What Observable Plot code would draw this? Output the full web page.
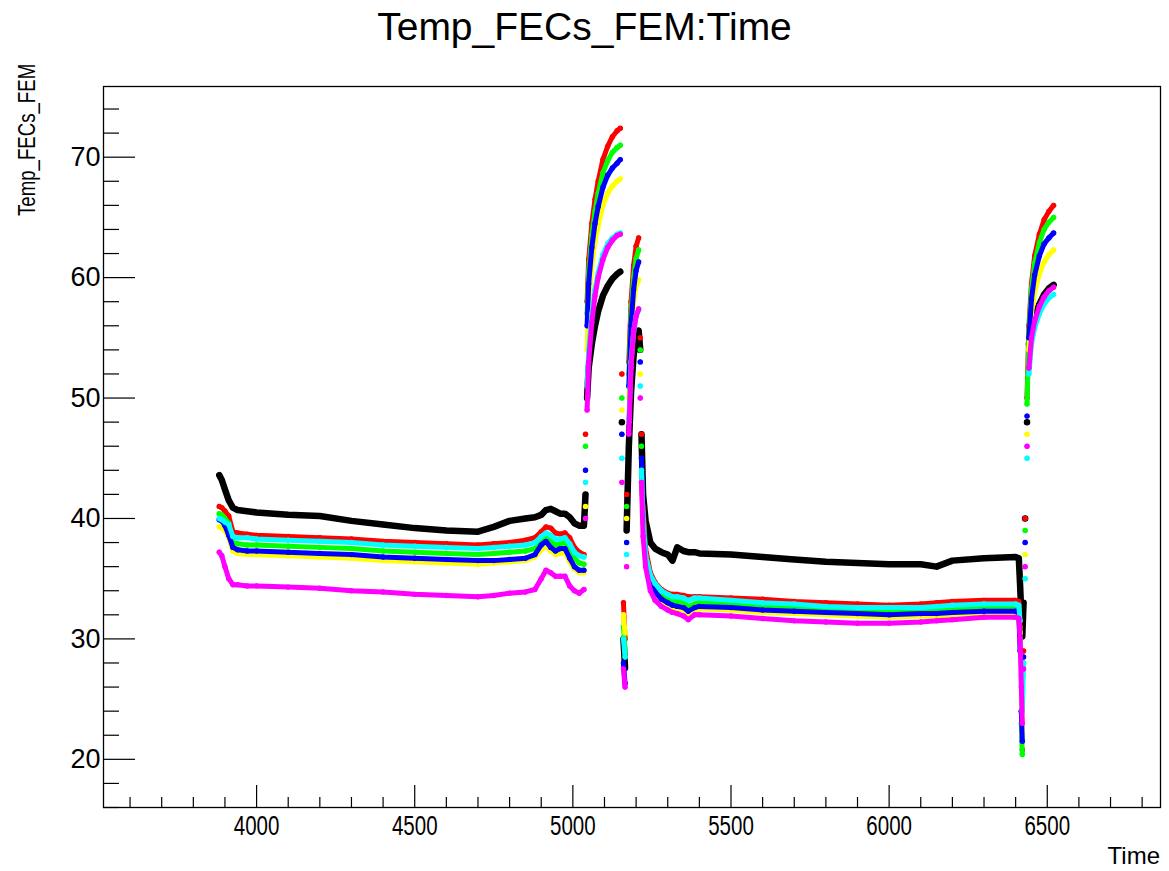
<!DOCTYPE html>
<html><head><meta charset="utf-8">
<script src="https://cdn.jsdelivr.net/npm/d3@7"></script>
<script src="https://cdn.jsdelivr.net/npm/@observablehq/plot@0.6"></script>
<style>
html,body{margin:0;padding:0;background:#fff;}
#wrap{position:relative;width:1169px;height:871px;font-family:"Liberation Sans",Arial,sans-serif;color:#000;}
#title{position:absolute;left:0;top:5px;width:1169px;text-align:center;font-size:39px;white-space:nowrap;}
#ytitle{position:absolute;left:14px;top:216px;font-size:23px;line-height:26px;white-space:nowrap;transform-origin:0 0;transform:rotate(-90deg) scaleX(0.81);}
#xtitle{position:absolute;right:9px;top:842px;font-size:24px;white-space:nowrap;}
</style></head>
<body><div id="wrap"><div id="chart"></div>
<div id="title">Temp_FECs_FEM:Time</div>
<div id="ytitle">Temp_FECs_FEM</div>
<div id="xtitle">Time</div>
</div>
<script>
// ---- data ----
const time = [3882,3890,3900,3912,3925,3940,3970,4000,4100,4200,4300,4400,4500,4600,4700,4750,4800,4850,4880,4900,4915,4930,4945,4960,4975,4990,5005,5020,5035,
  5040,5045,5050,5060,5070,5080,5095,5110,5125,5140,5150,
  5155,5160,5165,5170,5177,5184,5192,5200,5208,
  5213,5217,5222,5230,5245,5260,5280,5300,5315,5330,5350,5365,5385,5400,
  5500,5600,5700,5800,5900,6000,6100,6150,6200,6300,6400,6410,
  6414,6418,6421,6425,6430,6436,6442,6450,6460,6475,6490,6505,6520];

const fecBlack = [43.6,43.2,42.4,41.5,40.9,40.7,40.6,40.5,40.3,40.2,39.8,39.5,39.2,39.0,38.9,39.3,39.8,40.0,40.1,40.3,40.7,40.8,40.6,40.4,40.4,40.1,39.6,39.4,39.4,
  42,50,52.5,54.5,56,57.2,58.5,59.3,59.9,60.3,60.5,
  48,30,27.6,39,46,50.5,53.5,55.0,55.6,
  54,47,42,39.8,38.0,37.5,37.2,37.0,36.5,37.6,37.3,37.2,37.2,37.1,
  37.0,36.8,36.6,36.4,36.3,36.2,36.2,36.0,36.5,36.7,36.8,36.7,
  34.5,32,30.2,33,40,48,54.5,56,56.8,57.8,58.6,59.1,59.4];
const fecRed = [41.0,40.9,40.6,40.2,38.9,38.8,38.7,38.6,38.5,38.4,38.3,38.1,38.0,37.9,37.8,37.9,38.0,38.2,38.4,38.9,39.3,39.2,38.8,38.7,38.8,38.4,37.6,37.2,37.0,
  47,58,61.5,64.5,66.5,68,69.8,70.9,71.7,72.2,72.4,
  52,33,30,42,53,58,61,62.6,63.3,
  55,47,41,37.5,35.5,34.7,34.1,33.8,33.7,33.7,33.6,33.5,33.5,33.5,
  33.4,33.3,33.1,33.0,32.9,32.8,32.9,33.0,33.1,33.2,33.2,33.1,
  31,24,20.8,29,40,50,56,59.5,61.8,63.6,64.8,65.5,66.0];
const fecGreen = [40.4,40.3,40.0,39.6,38.0,37.9,37.8,37.8,37.7,37.6,37.5,37.3,37.2,37.1,37.0,37.1,37.2,37.3,37.5,38.1,38.4,38.2,37.8,37.9,38.0,37.4,36.7,36.3,36.2,
  46,57,60.5,63.5,65.5,67,68.7,69.7,70.4,70.8,71.0,
  50,31,29,41,52,57,60,61.6,62.3,
  54,46,40.5,37.0,35.1,34.3,33.7,33.4,33.2,33.1,33.0,32.7,32.9,33.0,
  32.9,32.7,32.6,32.4,32.3,32.3,32.3,32.4,32.5,32.6,32.6,32.5,
  30,23,20.4,28,39,49.5,55.5,59,61.2,62.9,64.0,64.6,65.0];
const fecYellow = [39.3,39.2,39.0,38.4,37.3,37.1,37.0,37.0,36.9,36.8,36.7,36.5,36.4,36.3,36.2,36.3,36.4,36.5,36.8,37.4,37.7,37.3,37.0,37.1,37.2,36.4,35.8,35.5,35.5,
  41,54,58,61,63,64.3,66,67,67.6,68.0,68.2,
  49,32,30.5,40,50,55,58,59.3,59.8,
  52,44,39.5,36.3,34.4,33.6,33.0,32.7,32.6,32.5,32.4,32.1,32.4,32.5,
  32.4,32.2,32.1,32.0,31.9,31.8,31.9,31.9,32.0,32.1,32.1,32.0,
  30.5,25,22,27,37,47,54,57,58.8,60.3,61.3,61.9,62.3];
const fecBlue = [39.9,39.8,39.4,38.6,37.6,37.4,37.3,37.3,37.2,37.1,37.0,36.8,36.7,36.6,36.5,36.5,36.6,36.7,37.0,37.8,38.1,37.6,37.3,37.5,37.5,36.7,36.0,35.7,35.7,
  44,56,59.5,62.5,64.5,65.9,67.5,68.5,69.1,69.5,69.8,
  47,28,26.3,38,51,56,59,60.6,61.3,
  53,45,40,36.6,34.7,33.9,33.3,33.0,32.8,32.7,32.6,32.3,32.6,32.7,
  32.6,32.4,32.3,32.2,32.1,32.0,32.1,32.1,32.2,32.3,32.3,32.2,
  29,24,21.5,28.5,38,48.5,55,58.2,60.2,61.8,62.8,63.3,63.7];
const fecCyan = [40.0,39.9,39.7,39.5,38.5,38.4,38.4,38.3,38.2,38.1,38.0,37.8,37.7,37.6,37.5,37.6,37.7,37.8,38.0,38.5,38.8,38.6,38.3,38.3,38.4,37.9,37.2,36.9,36.8,
  43,51,54,57,59,60.4,61.9,62.8,63.3,63.6,63.7,
  45,30,28.5,37,48,53,55.5,56.8,57.3,
  51,44,40,36.9,35.3,34.6,34.0,33.7,33.5,33.5,33.4,33.2,33.4,33.4,
  33.2,33.0,32.9,32.7,32.6,32.6,32.6,32.7,32.8,32.9,32.9,32.8,
  31.5,27,24,28,35,45,52,54.5,55.8,57.0,57.8,58.3,58.6];
const fecMagenta = [37.2,36.9,36.0,35.0,34.5,34.5,34.4,34.4,34.3,34.2,34.0,33.9,33.7,33.6,33.5,33.6,33.8,33.9,34.1,35.0,35.7,35.5,35.2,35.2,35.2,34.4,34.0,33.8,34.1,
  40,49,53,56.3,58.5,60.0,61.5,62.5,63.1,63.5,63.6,
  43,27.5,26.0,36,47,52.5,55.5,56.8,57.4,
  50,43,38.5,36.0,34.0,33.2,32.7,32.4,32.2,32.1,31.9,31.6,32.0,32.0,
  31.9,31.7,31.5,31.4,31.3,31.3,31.4,31.5,31.6,31.8,31.8,31.7,
  30,26,23,27.5,36,46,52.5,55,56.4,57.6,58.4,58.9,59.2];

const seriesNames = ["black","red","green","yellow","blue","cyan","magenta"];
const seriesValues = [fecBlack, fecRed, fecGreen, fecYellow, fecBlue, fecCyan, fecMagenta];
const seriesColors = ["#000000","#ff0000","#00ff00","#ffff00","#0000ff","#00ffff","#ff00ff"];

const xMajor = [4000,4500,5000,5500,6000,6500];
const xMinor = [3600,3700,3800,3900,4100,4200,4300,4400,4600,4700,4800,4900,5100,5200,5300,5400,5600,5700,5800,5900,6100,6200,6300,6400,6600,6700,6800];
const yMajor = [20,30,40,50,60,70];
const yMinor = [16,18,22,24,26,28,32,34,36,38,42,44,46,48,52,54,56,58,62,64,66,68,72,74];

// ---- layout ----
const W = 1169, H = 871, mL = 103, mR = 9, mT = 86, mB = 64;
const xDomain = [3516, 6858], yDomain = [16.0, 75.87];
const kx = (W - mL - mR) / (xDomain[1] - xDomain[0]);
const ky = (H - mT - mB) / (yDomain[1] - yDomain[0]);

const marks = [];
seriesNames.forEach((name, si) => {
  const vals = seriesValues[si];
  let seg = 0;
  const rows = time.map((t, i) => {
    if (i > 0 && Math.abs(vals[i] - vals[i-1]) / (t - time[i-1]) > 1.0) seg++;
    return {t, v: vals[i], seg};
  });
  marks.push(Plot.line(rows, {x: "t", y: "v", z: "seg", stroke: seriesColors[si], strokeWidth: name === "black" ? 6.5 : 5, strokeLinejoin: "round", strokeLinecap: "round"}));
  marks.push(Plot.dot(rows, {x: "t", y: "v", r: 2.7, fill: seriesColors[si], stroke: "none"}));
});

marks.push(
  Plot.ruleY(yMajor, {y: d => d, x1: () => xDomain[0], x2: () => xDomain[0] + 32 / kx, stroke: "#000", strokeWidth: 1.2}),
  Plot.ruleY(yMinor, {y: d => d, x1: () => xDomain[0], x2: () => xDomain[0] + 16 / kx, stroke: "#000", strokeWidth: 1.2}),
  Plot.ruleX(xMajor, {x: d => d, y1: () => yDomain[0], y2: () => yDomain[0] + 22 / ky, stroke: "#000", strokeWidth: 1.2}),
  Plot.ruleX(xMinor, {x: d => d, y1: () => yDomain[0], y2: () => yDomain[0] + 10 / ky, stroke: "#000", strokeWidth: 1.2}),
  Plot.frame({stroke: "#000", strokeWidth: 1.3}),
  Plot.axisY({ticks: yMajor, tickSize: 0, tickPadding: 3, fontSize: 27, label: null}),
  Plot.axisX({ticks: xMajor, tickSize: 0, tickPadding: 8, fontSize: 27, label: null, tickFormat: d => String(d)})
);

const chart = Plot.plot({
  width: W, height: H,
  marginLeft: mL, marginRight: mR, marginTop: mT, marginBottom: mB,
  x: {domain: xDomain},
  y: {domain: yDomain},
  style: {fontFamily: "'Liberation Sans', Arial, sans-serif", color: "#000", background: "#fff"},
  marks
});
document.getElementById("chart").appendChild(chart);
// condensed x tick labels, as in the reference
chart.querySelectorAll('g[aria-label="x-axis tick label"] text').forEach(el => {
  const tr = el.getAttribute("transform") || "";
  el.setAttribute("transform", tr + " scale(0.76,1)");
});
</script>
</body></html>
